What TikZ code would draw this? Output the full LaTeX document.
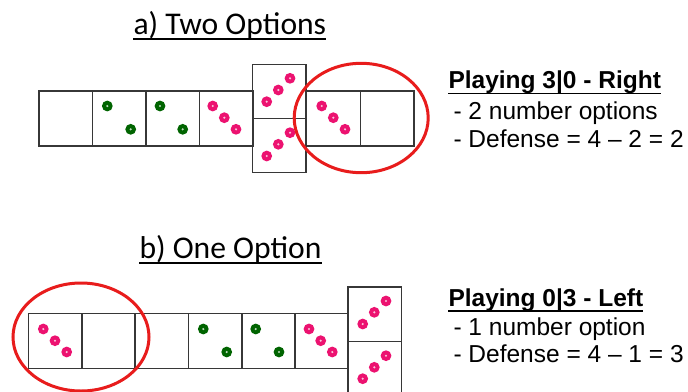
\documentclass[tikz,border=0pt]{standalone}
\usepackage{fontspec}
\setmainfont{Liberation Sans}
\newfontfamily\calfont{Carlito}
\definecolor{pipred}{RGB}{236,18,112}
\definecolor{pipgreen}{RGB}{0,100,0}
\definecolor{ringred}{RGB}{232,28,28}
\definecolor{edgegray}{RGB}{55,55,55}
\tikzset{
  cell/.style={draw=edgegray,line width=1.3pt,minimum width=53.6pt,minimum height=55pt,inner sep=0pt,outer sep=0pt},
  vcell/.style={cell,minimum width=53.4pt,minimum height=54.2pt},
  ring/.style={draw=ringred,line width=3pt},
  title/.style={anchor=base west,inner sep=0pt,font=\calfont\fontsize{31.6}{36}\selectfont},
  head/.style={anchor=base west,inner sep=0pt,font=\bfseries\fontsize{24.5}{29}\selectfont},
  item/.style={anchor=base west,inner sep=0pt,font=\fontsize{24.5}{29}\selectfont},
  uline/.style={line width=1.9pt,black}
}
\newcommand{\mypip}[3]{\fill[#3] (#1,#2) circle (5.4pt); \fill[white!75!#3] (#1,#2) circle (1.2pt);}
\begin{document}
\begin{tikzpicture}[x=1pt,y=-1pt]
\useasboundingbox[fill=white] (0,0) rectangle (688,391);
% titles
\node[title] (ta) at (133.3,34.6) {a) Two Options};
\node[title] (tb) at (139.3,258.3) {b) One Option};
\draw[uline] ([yshift=-4.8pt]ta.base west) -- ([yshift=-4.8pt]ta.base east);
\draw[uline] ([yshift=-5pt]tb.base west) -- ([yshift=-5pt]tb.base east);
% top row
\node[cell] (a1) at (65.8,118.5) {};
\node[cell] (a2) at (119.4,118.5) {};
\node[cell] (a3) at (172.9,118.5) {};
\node[cell] (a4) at (226.5,118.5) {};
\node[vcell] (a5t) at (279.4,91.3) {};
\node[vcell] (a5b) at (279.4,145.5) {};
\node[cell] (a6) at (333.6,118.5) {};
\node[cell] (a7) at (387.2,118.5) {};
\mypip{107.3}{106}{pipgreen}\mypip{130.7}{129.3}{pipgreen}
\mypip{160}{106}{pipgreen}\mypip{182.7}{129.3}{pipgreen}
\mypip{212.7}{106}{pipred}\mypip{224.3}{117.7}{pipred}\mypip{236}{129.3}{pipred}
\mypip{266.7}{101.7}{pipred}\mypip{278.3}{90}{pipred}\mypip{290}{78.3}{pipred}
\mypip{266.7}{156}{pipred}\mypip{278.3}{144.3}{pipred}\mypip{290}{132.7}{pipred}
\mypip{321.7}{106}{pipred}\mypip{333.3}{117.7}{pipred}\mypip{345}{129.3}{pipred}
\draw[ring] (361.2,118) ellipse [x radius=67, y radius=54.7];
% bottom row
\node[cell] (b1) at (55.6,340.8) {};
\node[cell] (b2) at (108.8,340.8) {};
\node[cell] (b3) at (161.8,340.8) {};
\node[cell] (b4) at (215.5,340.8) {};
\node[cell] (b5) at (268.8,340.8) {};
\node[cell] (b6) at (321.8,340.8) {};
\node[vcell] (b7t) at (374.7,314.2) {};
\node[vcell] (b7b) at (374.7,368.9) {};
\mypip{43.3}{329}{pipred}\mypip{55}{340.7}{pipred}\mypip{66.7}{352}{pipred}
\mypip{203.3}{329}{pipgreen}\mypip{226.7}{352}{pipgreen}
\mypip{255.7}{329}{pipgreen}\mypip{279}{352}{pipgreen}
\mypip{309}{329}{pipred}\mypip{320.7}{340.7}{pipred}\mypip{332.3}{352}{pipred}
\mypip{362.7}{324}{pipred}\mypip{374.3}{312.3}{pipred}\mypip{386}{301}{pipred}
\mypip{362.7}{378.7}{pipred}\mypip{374.3}{367.3}{pipred}\mypip{386}{355.7}{pipred}
\draw[ring] (81,337) ellipse [x radius=68, y radius=54];
% right texts
\node[head] (h1) at (448.3,88.3) {Playing 3|0 - Right};
\draw[uline,line width=1.6pt] ([yshift=-5pt]h1.base west) -- ([yshift=-5pt]h1.base east);
\node[item] (h1a) at (453.3,119.3) {- 2 number options};
\node[item] (h1b) at (453.3,147.3) {- Defense = 4 – 2 = 2};
\node[head] (h2) at (448.3,306) {Playing 0|3 - Left};
\draw[uline,line width=1.6pt] ([yshift=-5pt]h2.base west) -- ([yshift=-5pt]h2.base east);
\node[item] (h2a) at (453.3,335) {- 1 number option};
\node[item] (h2b) at (453.3,362.7) {- Defense = 4 – 1 = 3};
\end{tikzpicture}
\end{document}
